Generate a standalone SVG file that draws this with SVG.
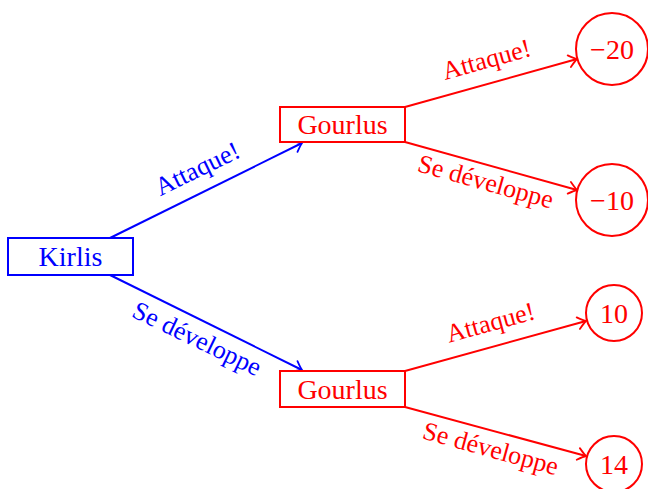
<svg xmlns="http://www.w3.org/2000/svg" width="648" height="489" viewBox="0 0 648 489">
<style>
  text { font-family: "Liberation Serif", "DejaVu Serif", serif; text-anchor: middle; }
  .node { font-size: 28px; }
  .lbl { font-size: 26px; }
  .blue { fill: #0000ff; }
  .red { fill: #ff0000; }
  .box { fill: #ffffff; stroke-width: 2; }
  .eb { stroke: #0000ff; stroke-width: 2; fill: none; marker-end: url(#ab); }
  .er { stroke: #ff0000; stroke-width: 2; fill: none; marker-end: url(#ar); }
</style>
<defs>
  <marker id="ab" markerUnits="userSpaceOnUse" viewBox="-10 -7 12 14" refX="0" refY="0" markerWidth="12" markerHeight="14" orient="auto" overflow="visible">
    <path d="M -8 -6 Q -2 -1 0 0 Q -2 1 -8 6" fill="none" stroke="#0000ff" stroke-width="1.8" stroke-linecap="round"/>
  </marker>
  <marker id="ar" markerUnits="userSpaceOnUse" viewBox="-10 -7 12 14" refX="0" refY="0" markerWidth="12" markerHeight="14" orient="auto" overflow="visible">
    <path d="M -8 -6 Q -2 -1 0 0 Q -2 1 -8 6" fill="none" stroke="#ff0000" stroke-width="1.8" stroke-linecap="round"/>
  </marker>
</defs>
<rect width="648" height="489" fill="#ffffff"/>
<g id="connectors">
  <line class="eb" x1="110" y1="238" x2="302" y2="143"/>
  <line class="eb" x1="110" y1="275" x2="302" y2="370"/>
  <line class="er" x1="405" y1="107" x2="577" y2="59"/>
  <line class="er" x1="405" y1="142" x2="577" y2="190"/>
  <line class="er" x1="405" y1="371" x2="586" y2="321"/>
  <line class="er" x1="405" y1="407" x2="586" y2="456"/>
  <g class="blue lbl">
    <text transform="translate(198,170) rotate(-26)" y="7">Attaque!</text>
    <text transform="translate(196,341) rotate(25.7)" y="6">Se développe</text>
  </g>
  <g class="red lbl">
    <text transform="translate(487,61) rotate(-15.6)" y="7">Attaque!</text>
    <text transform="translate(485,184) rotate(15.6)" y="6">Se développe</text>
    <text transform="translate(491,324) rotate(-15.4)" y="7">Attaque!</text>
    <text transform="translate(490,451) rotate(15.4)" y="6">Se développe</text>
  </g>
</g>
<g id="kirlis">
  <rect class="box" x="8" y="238" width="125" height="37" stroke="#0000ff"/>
  <text class="node blue" x="70.5" y="266">Kirlis</text>
</g>
<g id="gourlus-top">
  <rect class="box" x="280" y="107" width="125" height="35" stroke="#ff0000"/>
  <text class="node red" x="342.5" y="134">Gourlus</text>
</g>
<g id="gourlus-bottom">
  <rect class="box" x="280" y="371" width="125" height="36" stroke="#ff0000"/>
  <text class="node red" x="342.5" y="398.5">Gourlus</text>
</g>
<g id="leaf-m20">
  <circle cx="612" cy="49" r="36" fill="#ffffff" stroke="#ff0000" stroke-width="2"/>
  <text class="node red" x="612" y="58.5">−20</text>
</g>
<g id="leaf-m10">
  <circle cx="612" cy="200" r="36" fill="#ffffff" stroke="#ff0000" stroke-width="2"/>
  <text class="node red" x="612" y="209.5">−10</text>
</g>
<g id="leaf-10">
  <circle cx="614" cy="313" r="28" fill="#ffffff" stroke="#ff0000" stroke-width="2"/>
  <text class="node red" x="614" y="322.5">10</text>
</g>
<g id="leaf-14">
  <circle cx="614" cy="464" r="28" fill="#ffffff" stroke="#ff0000" stroke-width="2"/>
  <text class="node red" x="614" y="473.5">14</text>
</g>
</svg>
